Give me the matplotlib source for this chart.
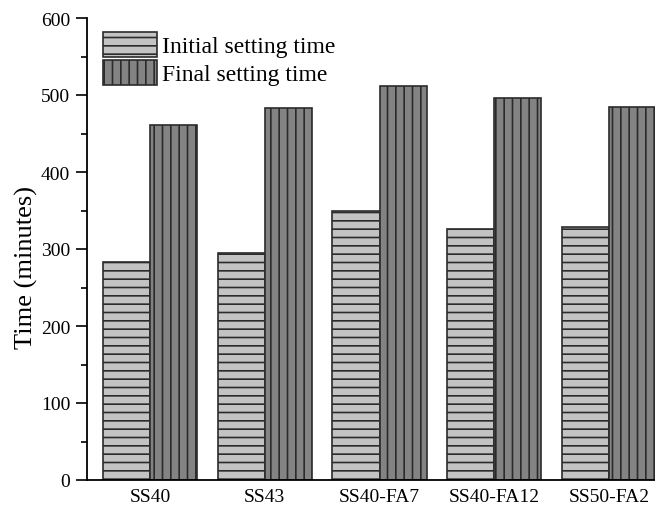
import matplotlib
matplotlib.use("Agg")
import matplotlib.pyplot as plt
from matplotlib.ticker import MultipleLocator
import numpy as np

# Setting times of the mixes (minutes)
mixes = ["SS40", "SS43", "SS40-FA7", "SS40-FA12", "SS50-FA2"]
initial_setting = [283, 295, 349, 326, 328]
final_setting = [461, 483, 512, 496, 484]
series_labels = ["Initial setting time", "Final setting time"]

plt.rcParams["font.family"] = ["Liberation Serif", "DejaVu Serif"]
plt.rcParams["hatch.linewidth"] = 1.2

fig = plt.figure(figsize=(6.55, 5.06), dpi=100)
ax = fig.add_axes([87 / 655, 25 / 506, 585 / 655, 462 / 506])

x = np.arange(len(mixes))
w = 0.41
ax.bar(x - w / 2, initial_setting, width=w, color="#c3c3c3", edgecolor="#2b2b2b",
       linewidth=1.2, hatch="--", label=series_labels[0], zorder=2)
ax.bar(x + w / 2, final_setting, width=w, color="#838383", edgecolor="#2b2b2b",
       linewidth=1.2, hatch="||", label=series_labels[1], zorder=2)

ax.set_xlim(-0.548, len(mixes) - 1 + 0.548)
ax.set_ylim(0, 600)
ax.set_xticks(x)
ax.set_xticklabels(mixes, fontsize=14)
ax.yaxis.set_major_locator(MultipleLocator(100))
ax.yaxis.set_minor_locator(MultipleLocator(50))
ax.tick_params(axis="y", which="major", direction="out", length=8, width=1.2,
               labelsize=14, pad=4)
ax.tick_params(axis="y", which="minor", direction="out", length=4, width=1.2)
ax.tick_params(axis="x", length=0, pad=6)
ax.set_ylabel("Time (minutes)", fontsize=19)
ax.yaxis.set_label_coords(-0.084, 0.462)

for side in ("top", "right"):
    ax.spines[side].set_visible(False)
for side in ("left", "bottom"):
    ax.spines[side].set_linewidth(1.3)

ax.legend(loc="upper left", frameon=False, fontsize=17, handlelength=2.25,
          handleheight=1.25, labelspacing=0.1, handletextpad=0.25,
          borderaxespad=0.0, bbox_to_anchor=(0.012, 0.99))

fig.savefig("out.png", dpi=100)
